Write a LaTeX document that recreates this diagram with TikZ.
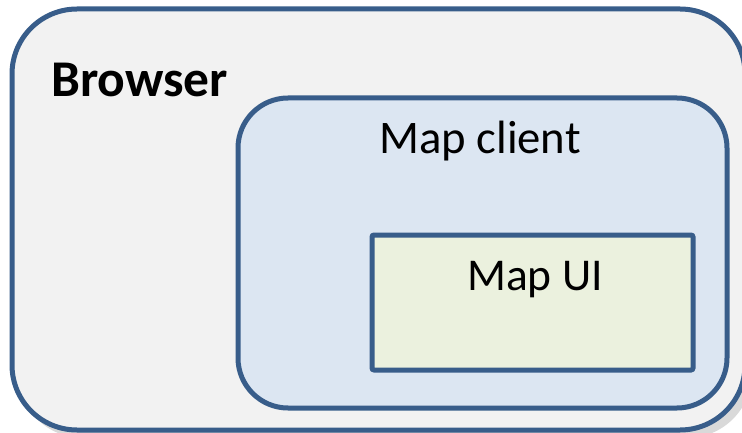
\documentclass[tikz,border=0pt]{standalone}
\usepackage{fontspec}
\setmainfont{Carlito}
\definecolor{bordercol}{HTML}{385D8A}
\definecolor{outerfill}{HTML}{F2F2F2}
\definecolor{clientfill}{HTML}{DCE6F2}
\definecolor{uifill}{HTML}{EBF1DE}
\definecolor{shadowcol}{HTML}{D9D9D9}
\tikzset{
  boxline/.style={draw=bordercol, line width=5pt},
  label/.style={inner sep=0pt, anchor=base west, font=\fontsize{46}{50}\selectfont},
}
\begin{document}
\begin{tikzpicture}[x=1pt,y=-1pt]
\useasboundingbox (0,0) rectangle (742,433);
% shadow
\fill[shadowcol, rounded corners=65pt] (18,15) rectangle (752,438);
% outer browser box
\path[boxline, fill=outerfill, rounded corners=65pt] (12,9) rectangle (745,430);
% map client
\path[boxline, fill=clientfill, rounded corners=50pt] (238,98) rectangle (727,408);
% map UI
\path[boxline, fill=uifill, rounded corners=2pt] (372,235) rectangle (693,370);
\node[label, font=\fontsize{51.5}{55}\bfseries] (browser) at (51,97) {Browser};
\node[label, font=\fontsize{46.7}{50}\selectfont] (client) at (379,154) {Map client};
\node[label, font=\fontsize{45.5}{50}\selectfont] (ui) at (467,290) {Map UI};
\end{tikzpicture}
\end{document}
